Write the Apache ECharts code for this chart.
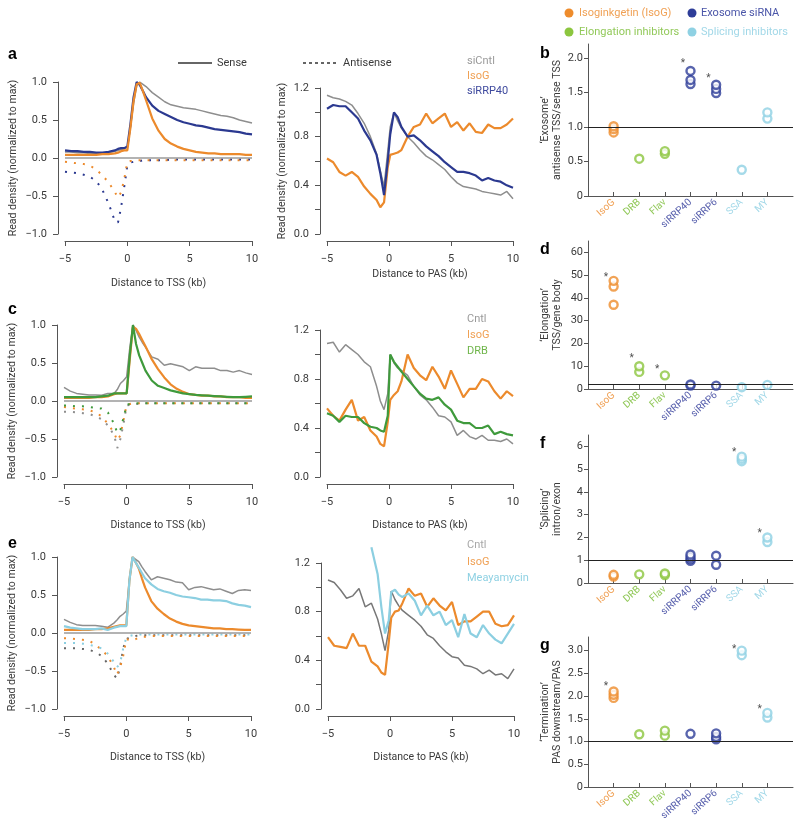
<!DOCTYPE html>
<html>
<head>
<meta charset="utf-8">
<script src="https://cdn.jsdelivr.net/npm/echarts@6/dist/echarts.min.js"></script>
<style>
  html, body { margin: 0; padding: 0; background: #fff; }
  #main { width: 800px; height: 831px; }
</style>
</head>
<body>
<div id="main"></div>
<script>
// ---- data: metagene profiles (kb from TSS / PAS) ----
var tssX = [-5,-4.5,-4,-3.5,-3,-2.5,-2,-1.5,-1,-0.75,-0.5,-0.25,0,0.25,0.5,0.75,1,1.25,1.5,2,2.5,3,3.5,4,4.5,5,5.5,6,6.5,7,7.5,8,8.5,9,9.5,10];
var pasX = [-5,-4.5,-4,-3.5,-3,-2.5,-2,-1.5,-1,-0.7,-0.4,-0.1,0.1,0.4,0.7,1,1.5,2,2.5,3,3.5,4,4.5,5,5.5,6,6.5,7,7.5,8,8.5,9,9.5,10];

// a
var aSenseCntl  = [0.08,0.08,0.07,0.07,0.06,0.06,0.06,0.07,0.09,0.1,0.11,0.12,0.14,0.4,0.72,0.95,1.0,0.97,0.94,0.86,0.8,0.74,0.7,0.68,0.66,0.65,0.64,0.62,0.6,0.58,0.56,0.55,0.53,0.5,0.48,0.46];
var aSenseRRP40 = [0.1,0.09,0.09,0.08,0.08,0.07,0.07,0.08,0.1,0.12,0.13,0.13,0.15,0.45,0.8,1.0,0.96,0.88,0.8,0.69,0.62,0.58,0.54,0.5,0.47,0.45,0.43,0.42,0.4,0.38,0.37,0.36,0.35,0.34,0.32,0.31];
var aSenseIsoG  = [0.04,0.04,0.04,0.04,0.04,0.04,0.05,0.05,0.06,0.07,0.09,0.1,0.1,0.4,0.75,0.97,0.99,0.88,0.76,0.52,0.36,0.25,0.19,0.15,0.12,0.1,0.08,0.07,0.06,0.06,0.05,0.05,0.05,0.05,0.04,0.04];
var aAntiRRP40  = [-0.18,-0.19,-0.2,-0.22,-0.25,-0.3,-0.42,-0.6,-0.83,-0.85,-0.65,-0.38,-0.1,-0.06,-0.05,-0.04,-0.04,-0.03,-0.03,-0.03,-0.03,-0.03,-0.02,-0.02,-0.02,-0.02,-0.02,-0.02,-0.02,-0.02,-0.02,-0.02,-0.02,-0.02,-0.02,-0.02];
var aAntiIsoG   = [-0.05,-0.06,-0.07,-0.08,-0.1,-0.15,-0.23,-0.32,-0.45,-0.52,-0.45,-0.28,-0.05,-0.04,-0.04,-0.03,-0.03,-0.03,-0.03,-0.03,-0.03,-0.03,-0.03,-0.03,-0.03,-0.03,-0.03,-0.03,-0.03,-0.03,-0.03,-0.03,-0.03,-0.03,-0.03,-0.03];
var aPasCntl    = [1.14,1.12,1.11,1.09,1.06,0.99,0.91,0.8,0.66,0.52,0.39,0.68,0.88,1.0,0.93,0.87,0.8,0.75,0.69,0.64,0.61,0.57,0.53,0.47,0.42,0.39,0.38,0.37,0.35,0.34,0.33,0.32,0.35,0.29];
var aPasRRP40   = [1.03,1.06,1.05,1.05,1.0,0.95,0.85,0.77,0.65,0.5,0.32,0.6,0.82,1.0,0.96,0.88,0.8,0.81,0.77,0.72,0.68,0.64,0.59,0.55,0.51,0.51,0.5,0.48,0.44,0.46,0.44,0.43,0.4,0.38];
var aPasIsoG    = [0.62,0.59,0.51,0.48,0.51,0.47,0.39,0.33,0.28,0.22,0.26,0.55,0.65,0.66,0.67,0.69,0.8,0.88,0.9,0.99,0.91,0.95,0.99,0.88,0.92,0.85,0.91,0.84,0.83,0.9,0.87,0.87,0.9,0.95];

// c
var cSenseCntl = [0.18,0.13,0.1,0.09,0.08,0.08,0.075,0.1,0.1,0.15,0.23,0.27,0.32,0.7,1.0,0.93,0.84,0.77,0.71,0.58,0.55,0.47,0.49,0.47,0.45,0.4,0.45,0.43,0.43,0.43,0.4,0.4,0.38,0.4,0.37,0.35];
var cSenseIsoG = [0.04,0.04,0.04,0.04,0.04,0.05,0.05,0.06,0.09,0.1,0.1,0.1,0.1,0.55,0.98,0.95,0.88,0.8,0.72,0.55,0.42,0.31,0.22,0.16,0.12,0.09,0.08,0.07,0.07,0.06,0.06,0.05,0.05,0.05,0.04,0.04];
var cSenseDRB  = [0.05,0.05,0.05,0.05,0.05,0.05,0.06,0.07,0.1,0.1,0.1,0.1,0.1,0.6,1.0,0.75,0.6,0.5,0.4,0.27,0.2,0.17,0.14,0.12,0.1,0.09,0.08,0.075,0.07,0.065,0.06,0.055,0.05,0.05,0.055,0.06];
var cAntiCntl  = [-0.14,-0.14,-0.15,-0.16,-0.17,-0.2,-0.24,-0.32,-0.45,-0.62,-0.5,-0.3,-0.06,-0.05,-0.04,-0.04,-0.04,-0.03,-0.03,-0.03,-0.03,-0.03,-0.03,-0.03,-0.03,-0.03,-0.03,-0.03,-0.03,-0.03,-0.03,-0.03,-0.03,-0.03,-0.03,-0.03];
var cAntiIsoG  = [-0.08,-0.09,-0.1,-0.11,-0.12,-0.15,-0.2,-0.3,-0.42,-0.52,-0.45,-0.25,-0.05,-0.04,-0.03,-0.03,-0.03,-0.03,-0.03,-0.03,-0.03,-0.03,-0.03,-0.03,-0.03,-0.03,-0.03,-0.03,-0.03,-0.03,-0.03,-0.03,-0.03,-0.03,-0.03,-0.03];
var cAntiDRB   = [-0.06,-0.06,-0.07,-0.07,-0.08,-0.09,-0.1,-0.15,-0.3,-0.42,-0.38,-0.22,-0.05,-0.04,-0.03,-0.03,-0.03,-0.03,-0.03,-0.03,-0.03,-0.03,-0.03,-0.03,-0.03,-0.03,-0.03,-0.03,-0.03,-0.03,-0.03,-0.03,-0.03,-0.03,-0.03,-0.03];
var cPasCntl   = [1.09,1.1,1.02,1.08,1.04,1.0,0.94,0.9,0.74,0.62,0.55,0.68,1.0,0.93,0.89,0.87,0.83,0.74,0.67,0.63,0.57,0.5,0.49,0.45,0.34,0.38,0.33,0.31,0.34,0.3,0.3,0.29,0.31,0.27];
var cPasIsoG   = [0.56,0.5,0.46,0.55,0.63,0.46,0.49,0.38,0.33,0.27,0.25,0.45,0.63,0.67,0.7,0.78,1.0,0.89,0.83,0.79,0.9,0.82,0.72,0.87,0.76,0.65,0.72,0.72,0.8,0.78,0.7,0.64,0.7,0.66];
var cPasDRB    = [0.52,0.5,0.45,0.5,0.49,0.49,0.44,0.41,0.4,0.38,0.37,0.5,1.0,0.94,0.9,0.86,0.8,0.74,0.68,0.64,0.63,0.65,0.59,0.55,0.46,0.44,0.44,0.4,0.4,0.42,0.35,0.37,0.35,0.34];

// e
var eSenseCntl = [0.18,0.14,0.11,0.1,0.1,0.1,0.09,0.075,0.13,0.17,0.22,0.25,0.29,0.7,1.0,0.97,0.94,0.87,0.81,0.7,0.74,0.72,0.7,0.67,0.66,0.57,0.6,0.61,0.59,0.57,0.58,0.55,0.52,0.56,0.57,0.56];
var eSenseIsoG = [0.04,0.04,0.04,0.04,0.04,0.05,0.05,0.06,0.08,0.09,0.1,0.1,0.1,0.7,1.0,0.93,0.85,0.72,0.6,0.42,0.32,0.25,0.19,0.15,0.12,0.1,0.09,0.08,0.07,0.06,0.06,0.05,0.05,0.045,0.04,0.04];
var eSenseMY   = [0.09,0.07,0.06,0.05,0.05,0.05,0.06,0.04,0.07,0.08,0.09,0.09,0.09,0.7,1.0,0.93,0.86,0.79,0.72,0.64,0.58,0.55,0.53,0.5,0.48,0.47,0.46,0.44,0.44,0.43,0.43,0.42,0.39,0.37,0.36,0.34];
var eAntiCntl  = [-0.2,-0.2,-0.2,-0.21,-0.22,-0.25,-0.3,-0.4,-0.55,-0.6,-0.45,-0.2,-0.08,-0.06,-0.05,-0.04,-0.03,-0.03,-0.03,-0.03,-0.03,-0.03,-0.03,-0.03,-0.03,-0.03,-0.03,-0.03,-0.03,-0.03,-0.03,-0.03,-0.03,-0.03,-0.03,-0.03];
var eAntiIsoG  = [-0.07,-0.07,-0.08,-0.09,-0.1,-0.15,-0.22,-0.3,-0.45,-0.55,-0.45,-0.3,-0.08,-0.09,-0.1,-0.08,-0.06,-0.05,-0.05,-0.04,-0.04,-0.04,-0.04,-0.04,-0.04,-0.04,-0.04,-0.04,-0.04,-0.04,-0.04,-0.04,-0.04,-0.04,-0.04,-0.04];
var eAntiMY    = [-0.13,-0.13,-0.13,-0.14,-0.15,-0.18,-0.2,-0.27,-0.38,-0.45,-0.4,-0.2,-0.06,-0.04,-0.03,-0.02,-0.02,-0.02,-0.02,-0.02,-0.02,-0.02,-0.02,-0.02,-0.02,-0.02,-0.02,-0.02,-0.02,-0.02,-0.02,-0.02,-0.02,-0.02,-0.02,-0.02];
var ePasCntl   = [1.06,1.04,0.98,0.91,0.93,0.99,0.84,0.87,0.74,0.62,0.48,0.65,0.97,0.9,0.85,0.81,0.77,0.73,0.68,0.61,0.58,0.52,0.47,0.43,0.42,0.36,0.35,0.33,0.29,0.32,0.28,0.29,0.25,0.33];
var ePasIsoG   = [0.59,0.52,0.51,0.5,0.62,0.52,0.52,0.39,0.35,0.3,0.28,0.55,0.75,0.8,0.81,0.87,0.99,0.93,0.95,0.84,0.91,0.85,0.81,0.88,0.69,0.72,0.72,0.76,0.8,0.8,0.7,0.68,0.69,0.77];
var ePasMY     = [null,null,null,null,null,null,null,1.33,1.11,0.84,0.62,0.73,0.96,0.98,0.94,0.92,0.95,0.89,0.77,0.85,0.77,0.8,0.69,0.73,0.59,0.78,0.62,0.59,0.69,0.62,0.57,0.54,0.62,0.7];

// ---- data: ratio dot plots (replicates per treatment) ----
var cats = ['IsoG', 'DRB', 'Flav', 'siRRP40', 'siRRP6', 'SSA', 'MY'];
var bVals = [[0.92,0.97,1.01],[0.54],[0.61,0.65],[1.62,1.68,1.81],[1.49,1.55,1.61],[0.38],[1.12,1.21]];
var bStars = [[4,1.96],[5,1.74]];
var dVals = [[37,45,47.5],[7.5,10],[6],[1.5,2],[1.5],[0.8],[1.8]];
var dStars = [[1,50.5],[2,14.5],[3,10]];
var fVals = [[0.28,0.36],[0.38],[0.35,0.42],[0.97,1.05,1.15,1.25],[0.8,1.2],[5.35,5.45,5.55],[1.8,2.0]];
var fStars = [[6,5.85],[7,2.3]];
var gVals = [[1.96,2.03,2.1],[1.16],[1.13,1.24],[1.17],[1.05,1.1,1.18],[2.9,3.0],[1.53,1.63]];
var gStars = [[1,2.27],[6,3.1],[7,1.78]];

// ---- styles ----
var F = 'Roboto, "Noto Sans", sans-serif';
var INK = '#3a3a3a', AX = '#555';
var cOrange = '#ec8a2c', cBlue = '#2b3990', cGray = '#8e8e8e', cGreen = '#3f9a3c', cLight = '#8ccfe1';
var dotColors = ['#ee8c2c', '#8cc63f', '#8cc63f', '#2e3d98', '#2e3d98', '#8fd1e3', '#8fd1e3'];
var labColors = ['#f0a155', '#92c95a', '#92c95a', '#5860ad', '#5860ad', '#a2d8e8', '#a2d8e8'];
var catPos = [1, 2, 3, 4, 5, 6, 7];

var myChart = echarts.init(document.getElementById('main'));
var grid = [], xAxis = [], yAxis = [], series = [];

function minus(v) { return v < 0 ? '\u2212' + Math.abs(v) : String(v); }
function dec1(v) { v = Number(v); return (v < 0 ? '\u2212' : '') + Math.abs(v).toFixed(1); }

function baseAxis(g) {
  return {
    type: 'value', gridIndex: g,
    axisLine: { show: true, onZero: false, lineStyle: { color: AX, width: 1 } },
    axisTick: { show: true, length: 5, lineStyle: { color: AX, width: 1 } },
    axisLabel: { color: INK, fontSize: 11, fontFamily: F },
    splitLine: { show: false },
    nameLocation: 'middle',
    nameTextStyle: { color: INK, fontSize: 10.5, fontFamily: F, lineHeight: 11.5 }
  };
}

function linePanel(rect, kind, xName, xGap, yName, yGap) {
  grid.push({ left: rect[0], top: rect[1], width: rect[2], height: rect[3] });
  var g = grid.length - 1;
  var xa = baseAxis(g);
  xa.min = -5; xa.max = 10; xa.interval = 5; xa.offset = 7;
  xa.axisLabel.margin = 13; xa.axisLabel.formatter = minus;
  xa.name = xName; xa.nameGap = xGap;
  xAxis.push(xa);
  var ya = baseAxis(g);
  ya.offset = 7; ya.axisLabel.margin = 11;
  if (kind === 'tss') {
    ya.min = -1; ya.max = 1; ya.interval = 0.5; ya.axisLabel.formatter = dec1;
  } else {
    ya.min = 0; ya.max = 1.2;
    ya.axisTick.customValues = [0, 0.2, 0.4, 0.6, 0.8, 1.0, 1.2];
    ya.axisLabel.customValues = [0, 0.4, 0.8, 1.2];
    ya.axisLabel.formatter = dec1;
  }
  if (yName) { ya.name = yName; ya.nameGap = yGap; }
  yAxis.push(ya);
  return g;
}

function line(g, xs, ys, color, width, dotted, extra) {
  var s = {
    type: 'line', xAxisIndex: g, yAxisIndex: g, silent: true,
    symbol: 'none', animation: false,
    data: xs.map(function (x, i) { return [x, ys[i]]; }),
    lineStyle: { color: color, width: width, type: dotted ? [2, 7] : 'solid' }
  };
  if (extra) Object.assign(s, extra);
  series.push(s);
}

function zeroLine() {
  return {
    markLine: {
      silent: true, symbol: ['none', 'none'], label: { show: false }, animation: false,
      lineStyle: { color: '#9a9a9a', width: 1.5, type: 'solid' },
      data: [{ yAxis: 0 }]
    }
  };
}

function dotPanel(rect, max, ticks, decimals, name, vals, stars, refY) {
  grid.push({ left: rect[0], top: rect[1], width: rect[2], height: rect[3] });
  var g = grid.length - 1;
  var xa = baseAxis(g);
  xa.min = 0; xa.max = 8;
  xa.axisTick = { show: true, inside: true, length: 4, customValues: catPos, lineStyle: { color: AX } };
  xa.axisLabel = {
    customValues: catPos, rotate: 42, margin: 5, fontSize: 10, fontFamily: F,
    formatter: function (v) { return cats[Math.round(v) - 1]; },
    color: function (v) { return labColors[Math.round(Number(v)) - 1] || INK; }
  };
  xAxis.push(xa);
  var ya = baseAxis(g);
  ya.min = 0; ya.max = max;
  ya.axisTick.length = 4; ya.axisTick.customValues = ticks;
  ya.axisLabel.customValues = ticks; ya.axisLabel.margin = 5;
  ya.axisLabel.formatter = function (v) { return Number(v) === 0 ? '0' : Number(v).toFixed(decimals); };
  ya.name = name; ya.nameGap = 25;
  yAxis.push(ya);

  var pts = [];
  vals.forEach(function (arr, i) {
    arr.forEach(function (v) {
      pts.push({ value: [i + 1, v], itemStyle: { color: '#fff', borderColor: dotColors[i] } });
    });
  });
  series.push({
    type: 'scatter', xAxisIndex: g, yAxisIndex: g, silent: true, animation: false,
    symbol: 'circle', symbolSize: 8, itemStyle: { borderWidth: 2.4 },
    data: pts, z: 3,
    markLine: {
      silent: true, symbol: ['none', 'none'], label: { show: false }, animation: false,
      lineStyle: { color: '#222', width: 1, type: 'solid' },
      data: [{ yAxis: refY }]
    }
  });
  series.push({
    type: 'scatter', xAxisIndex: g, yAxisIndex: g, silent: true, animation: false,
    symbolSize: 1, itemStyle: { color: 'rgba(0,0,0,0)' },
    data: stars.map(function (s) { return [s[0] - 0.3, s[1]]; }),
    label: { show: true, formatter: '*', position: 'inside', color: '#222', fontSize: 10, fontFamily: F, offset: [0, 3] }
  });
}

// ---- line panels ----
var ga = linePanel([65, 82, 187, 152], 'tss', 'Distance to TSS (kb)', 37, 'Read density (normalized to max)', 39);
line(ga, tssX, aSenseCntl, cGray, 1.5, false, zeroLine());
line(ga, tssX, aAntiRRP40, cBlue, 2, true);
line(ga, tssX, aAntiIsoG, cOrange, 2, true);
line(ga, tssX, aSenseRRP40, cBlue, 2.2, false);
line(ga, tssX, aSenseIsoG, cOrange, 2.2, false);

var ga2 = linePanel([327, 88, 186, 146], 'pas', 'Distance to PAS (kb)', 28, 'Read density (normalized to max)', 32);
line(ga2, pasX, aPasCntl, cGray, 1.5, false);
line(ga2, pasX, aPasIsoG, cOrange, 2.2, false);
line(ga2, pasX, aPasRRP40, cBlue, 2.2, false);

var gc = linePanel([64, 325, 188, 152], 'tss', 'Distance to TSS (kb)', 36, 'Read density (normalized to max)', 39);
line(gc, tssX, cSenseCntl, cGray, 1.5, false, zeroLine());
line(gc, tssX, cAntiCntl, cGray, 2, true);
line(gc, tssX, cAntiIsoG, cOrange, 2, true);
line(gc, tssX, cAntiDRB, cGreen, 2, true);
line(gc, tssX, cSenseIsoG, cOrange, 2.2, false);
line(gc, tssX, cSenseDRB, cGreen, 2.2, false);

var gc2 = linePanel([327, 330, 186, 147], 'pas', 'Distance to PAS (kb)', 36, null, 0);
line(gc2, pasX, cPasCntl, cGray, 1.5, false);
line(gc2, pasX, cPasIsoG, cOrange, 2.2, false);
line(gc2, pasX, cPasDRB, cGreen, 2.2, false);

var ge = linePanel([64, 557, 187, 152], 'tss', 'Distance to TSS (kb)', 36, 'Read density (normalized to max)', 39);
line(ge, tssX, eSenseCntl, cGray, 1.5, false, zeroLine());
line(ge, tssX, eAntiCntl, '#666', 2, true);
line(ge, tssX, eAntiIsoG, cOrange, 2, true);
line(ge, tssX, eAntiMY, cLight, 2, true);
line(ge, tssX, eSenseIsoG, cOrange, 2.2, false);
line(ge, tssX, eSenseMY, cLight, 2.2, false);

var ge2 = linePanel([328, 563, 186, 146], 'pas', 'Distance to PAS (kb)', 36, null, 0);
line(ge2, pasX, ePasCntl, '#777', 1.5, false);
line(ge2, pasX, ePasIsoG, cOrange, 2.2, false);
line(ge2, pasX, ePasMY, cLight, 2.2, false, { clip: false });

// ---- dot panels ----
dotPanel([588, 44, 205, 152], 2.2, [0, 0.5, 1, 1.5, 2], 1, '\u2018Exosome\u2019\nantisense TSS/sense TSS', bVals, bStars, 1);
dotPanel([588, 241, 205, 148], 65, [0, 10, 20, 30, 40, 50, 60], 0, '\u2018Elongation\u2019\nTSS/gene body', dVals, dStars, 2);
dotPanel([588, 435, 205, 148], 6.5, [0, 1, 2, 3, 4, 5, 6], 0, '\u2018Splicing\u2019\nintron/exon', fVals, fStars, 1);
dotPanel([588, 637, 205, 150], 3.3, [0, 0.5, 1, 1.5, 2, 2.5, 3], 1, '\u2018Termination\u2019\nPAS downstream/PAS', gVals, gStars, 1);

// ---- text, legends, panel letters ----
function txt(x, y, s, color, size, weight, align) {
  return {
    type: 'text', x: x, y: y, silent: true,
    style: {
      text: s, fill: color, fontSize: size, fontFamily: weight ? '"Liberation Sans", Arial, sans-serif' : F,
      fontWeight: weight || 'normal',
      align: align || 'left', verticalAlign: 'middle',
      textAlign: align || 'left', textVerticalAlign: 'middle'
    }
  };
}

var graphics = [
  txt(8, 55, 'a', '#000', 16, 'bold'),
  txt(8, 310, 'c', '#000', 16, 'bold'),
  txt(8, 544, 'e', '#000', 16, 'bold'),
  txt(540, 54, 'b', '#000', 16, 'bold'),
  txt(540, 250, 'd', '#000', 16, 'bold'),
  txt(540, 444, 'f', '#000', 16, 'bold'),
  txt(540, 646, 'g', '#000', 16, 'bold'),

  { type: 'line', silent: true, shape: { x1: 178, y1: 63, x2: 212, y2: 63 }, style: { stroke: '#333', lineWidth: 1.5 } },
  txt(217, 63, 'Sense', INK, 11),
  { type: 'line', silent: true, shape: { x1: 303, y1: 63, x2: 338, y2: 63 }, style: { stroke: '#333', lineWidth: 1.5, lineDash: [3, 3] } },
  txt(343, 63, 'Antisense', INK, 11),

  txt(467, 61, 'siCntl', '#9a9a9a', 11),
  txt(467, 76, 'IsoG', '#f0a155', 11),
  txt(467, 91, 'siRRP40', '#3f4a9e', 11),

  txt(467, 319, 'Cntl', '#9a9a9a', 11),
  txt(467, 335, 'IsoG', '#f0a155', 11),
  txt(467, 351, 'DRB', '#6fb54a', 11),

  txt(467, 545, 'Cntl', '#a8a8a8', 11),
  txt(467, 562, 'IsoG', '#f0a155', 11),
  txt(467, 578, 'Meayamycin', '#8fd1e3', 11),

  { type: 'circle', silent: true, shape: { cx: 569, cy: 13, r: 4.5 }, style: { fill: '#ee8c2c' } },
  txt(579, 13, 'Isoginkgetin (IsoG)', '#f0a155', 11),
  { type: 'circle', silent: true, shape: { cx: 692, cy: 13, r: 4.5 }, style: { fill: '#2e3d98' } },
  txt(701, 13, 'Exosome siRNA', '#4a55a8', 11),
  { type: 'circle', silent: true, shape: { cx: 569, cy: 32, r: 4.5 }, style: { fill: '#8cc63f' } },
  txt(579, 32, 'Elongation inhibitors', '#92c95a', 11),
  { type: 'circle', silent: true, shape: { cx: 692, cy: 32, r: 4.5 }, style: { fill: '#8fd1e3' } },
  txt(701, 32, 'Splicing inhibitors', '#a2d8e8', 11)
];

myChart.setOption({
  animation: false,
  backgroundColor: '#fff',
  grid: grid,
  xAxis: xAxis,
  yAxis: yAxis,
  series: series,
  graphic: graphics
});
</script>
</body>
</html>
